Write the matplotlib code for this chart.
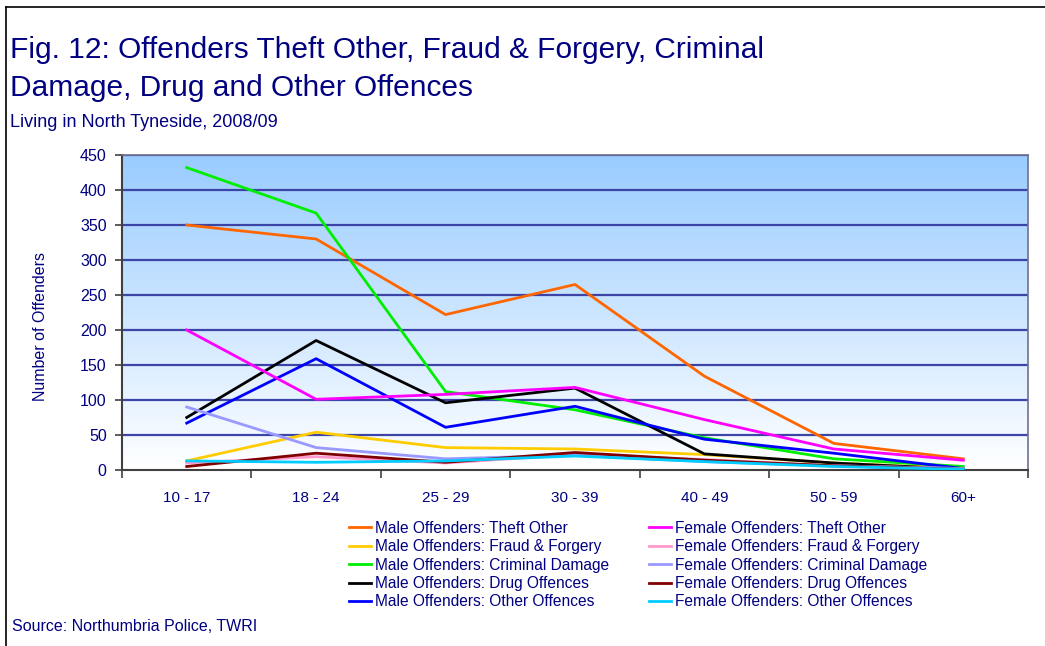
import numpy as np
import matplotlib
matplotlib.use("Agg")
import matplotlib.pyplot as plt
from matplotlib.lines import Line2D

plt.rcParams['font.family'] = ['Liberation Sans', 'DejaVu Sans']

ages = ["10 - 17", "18 - 24", "25 - 29", "30 - 39", "40 - 49", "50 - 59", "60+"]

male_theft = [350, 330, 222, 265, 134, 38, 16]
male_fraud = [13, 54, 32, 30, 22, 10, 2]
male_damage = [432, 367, 112, 86, 46, 16, 5]
male_drug = [75, 185, 96, 117, 23, 10, 1]
male_other = [67, 159, 61, 91, 44, 24, 2]
female_theft = [200, 101, 108, 118, 72, 30, 14]
female_fraud = [10, 19, 10, 22, 15, 6, 2]
female_damage = [90, 32, 16, 21, 12, 6, 2]
female_drug = [5, 24, 11, 25, 14, 6, 1]
female_other = [13, 11, 13, 20, 12, 5, 1]

series = [
    ("Male Offenders: Theft Other", male_theft, "#ff6600"),
    ("Male Offenders: Fraud & Forgery", male_fraud, "#ffcc00"),
    ("Male Offenders: Criminal Damage", male_damage, "#00ee00"),
    ("Male Offenders: Drug Offences", male_drug, "#000000"),
    ("Male Offenders: Other Offences", male_other, "#0000ff"),
    ("Female Offenders: Theft Other", female_theft, "#ff00ff"),
    ("Female Offenders: Fraud & Forgery", female_fraud, "#ff99cc"),
    ("Female Offenders: Criminal Damage", female_damage, "#9999ff"),
    ("Female Offenders: Drug Offences", female_drug, "#800000"),
    ("Female Offenders: Other Offences", female_other, "#00ccff"),
]

navy = "#000080"

fig = plt.figure(figsize=(10.45, 6.46), dpi=100)
ax = fig.add_axes([122 / 1045, 1 - 470 / 646, 906 / 1045, 315 / 646])

# gradient background
grad = np.linspace(1, 0, 256).reshape(-1, 1)
top = np.array([0.60, 0.80, 1.0])
bot = np.array([1.0, 1.0, 1.0])
img = bot + (top - bot) * grad[..., None]
ax.imshow(img, extent=[-0.5, 6.5, 0, 450], aspect="auto", zorder=0)

x = np.arange(len(ages))
for name, vals, col in series:
    ax.plot(x, vals, color=col, lw=2, zorder=3)

ax.set_xlim(-0.5, 6.5)
ax.set_ylim(0, 450)
ax.set_yticks(np.arange(0, 451, 50))
for yv in np.arange(50, 451, 50):
    ax.axhline(yv, color="#3c44a8", lw=1.6, zorder=1)

ax.set_xticks(x)
ax.set_xticklabels(ages)
ax.set_xticks(np.arange(-0.5, 7, 1), minor=True)
ax.tick_params(axis="x", which="major", length=0, pad=15, labelsize=11, labelcolor=navy)
ax.tick_params(axis="x", which="minor", length=6, width=1.2, color="#404040")
ax.tick_params(axis="y", length=5, width=1.2, color="#404040", labelsize=11.5, labelcolor=navy, pad=6)
for s in ["left", "bottom"]:
    ax.spines[s].set_color("#404040")
    ax.spines[s].set_linewidth(1.5)
for s in ["top", "right"]:
    ax.spines[s].set_color("#707090")
    ax.spines[s].set_linewidth(1.2)
ax.set_ylabel("Number of Offenders", color=navy, fontsize=11.5)
ax.yaxis.set_label_coords(-0.082, 0.455)

handles = [Line2D([], [], color=c, lw=2) for _, _, c in series]
labels = [n for n, _, _ in series]
fig.legend(handles, labels, ncol=2, loc="upper left", bbox_to_anchor=(341 / 1045, 1 - 513 / 646),
           frameon=False, fontsize=11.2, labelcolor=navy, handlelength=1.4, handletextpad=0.3,
           columnspacing=2.55, labelspacing=0.22, borderpad=0)

fig.text(10 / 1045, 1 - 58 / 646, "Fig. 12: Offenders Theft Other, Fraud & Forgery, Criminal",
         color=navy, fontsize=21.5, va="baseline")
fig.text(10 / 1045, 1 - 96 / 646, "Damage, Drug and Other Offences",
         color=navy, fontsize=21.5, va="baseline")
fig.text(10 / 1045, 1 - 127 / 646, "Living in North Tyneside, 2008/09",
         color=navy, fontsize=13, va="baseline")
fig.text(12 / 1045, 1 - 631 / 646, "Source: Northumbria Police, TWRI",
         color=navy, fontsize=11.5, va="baseline")

# frame lines at left and top of the figure
fig.add_artist(Line2D([6 / 1045, 6 / 1045], [0, 1 - 7 / 646], color="black", lw=1.2,
                      transform=fig.transFigure))
fig.add_artist(Line2D([6 / 1045, 1], [1 - 7 / 646, 1 - 7 / 646], color="black", lw=1.2,
                      transform=fig.transFigure))

fig.savefig("out.png", dpi=100)
